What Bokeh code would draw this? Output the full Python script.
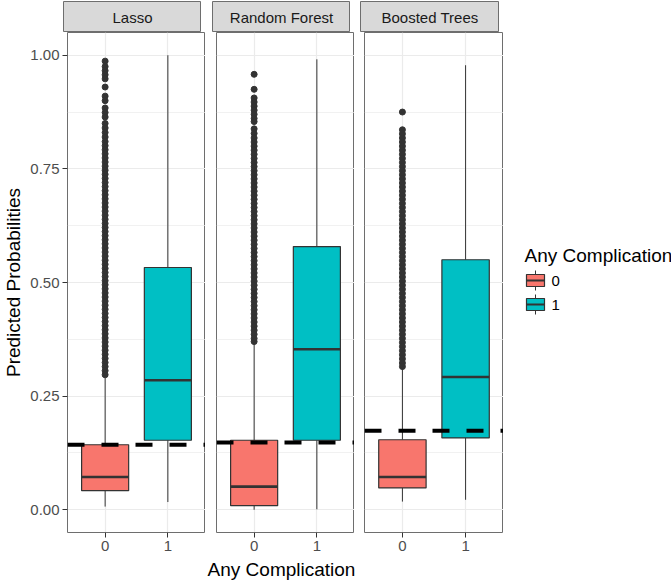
from bokeh.plotting import figure
from bokeh.models import Range1d, FixedTicker, Span
from bokeh.layouts import row, column
from bokeh.embed import file_html
from bokeh.resources import INLINE
from bokeh.core.properties import value

# ---------------- data ----------------
panels = ["Lasso", "Random Forest", "Boosted Trees"]
groups = ["0", "1"]
colors = ["#F8766D", "#00BFC4"]
x_title = "Any Complication"
y_title = "Predicted Probabilities"
legend_title = "Any Complication"

# boxplot stats per group: lower whisker, Q1, median, Q3, upper whisker
lasso_low = [0.007, 0.017]
lasso_q1 = [0.042, 0.153]
lasso_med = [0.072, 0.285]
lasso_q3 = [0.143, 0.533]
lasso_high = [0.290, 1.000]

rf_low = [0.000, 0.001]
rf_q1 = [0.009, 0.153]
rf_med = [0.051, 0.353]
rf_q3 = [0.153, 0.579]
rf_high = [0.367, 0.991]

bt_low = [0.018, 0.022]
bt_q1 = [0.048, 0.158]
bt_med = [0.072, 0.292]
bt_q3 = [0.154, 0.550]
bt_high = [0.312, 0.978]

thresholds = [0.143, 0.148, 0.174]

# outliers of group "0" (group "1" has none)
lasso_out = [0.987, 0.975, 0.966, 0.957, 0.948, 0.930, 0.910, 0.900, 0.884, 0.874,
             0.864, 0.850, 0.840, 0.830, 0.820,
             0.810, 0.801, 0.792, 0.783, 0.774, 0.765, 0.756, 0.747, 0.738, 0.729,
             0.720, 0.711, 0.702, 0.693, 0.684, 0.675, 0.666, 0.657, 0.648, 0.639,
             0.630, 0.621, 0.612, 0.603, 0.594, 0.585, 0.576, 0.567, 0.558, 0.549,
             0.540, 0.531, 0.522, 0.513, 0.504, 0.495, 0.486, 0.477, 0.468, 0.459,
             0.450, 0.441, 0.432, 0.423, 0.414, 0.405, 0.396, 0.387, 0.378, 0.369,
             0.360, 0.351, 0.342, 0.333, 0.324, 0.315, 0.306, 0.297]
rf_out = [0.958, 0.925, 0.906, 0.897, 0.888, 0.879, 0.870, 0.861, 0.854, 0.838, 0.828,
          0.818, 0.809, 0.800, 0.791, 0.782, 0.773, 0.764, 0.755, 0.746, 0.737,
          0.728, 0.719, 0.710, 0.701, 0.692, 0.683, 0.674, 0.665, 0.656, 0.647,
          0.638, 0.629, 0.620, 0.611, 0.602, 0.593, 0.584, 0.575, 0.566, 0.557,
          0.548, 0.539, 0.530, 0.521, 0.512, 0.503, 0.494, 0.485, 0.476, 0.467,
          0.458, 0.449, 0.440, 0.431, 0.422, 0.413, 0.404, 0.395, 0.386, 0.377, 0.370]
bt_out = [0.875, 0.836, 0.827, 0.818, 0.809, 0.800, 0.791, 0.782, 0.773, 0.764, 0.755,
          0.746, 0.737, 0.728, 0.719, 0.710, 0.701, 0.692, 0.683, 0.674, 0.665,
          0.656, 0.647, 0.638, 0.629, 0.620, 0.611, 0.602, 0.593, 0.584, 0.575,
          0.566, 0.557, 0.548, 0.539, 0.530, 0.521, 0.512, 0.503, 0.494, 0.485,
          0.476, 0.467, 0.458, 0.449, 0.440, 0.431, 0.422, 0.413, 0.404, 0.395,
          0.386, 0.377, 0.368, 0.359, 0.350, 0.341, 0.332, 0.323, 0.315]

y_ticks = [0.0, 0.25, 0.5, 0.75, 1.0]
y_minor = [0.125, 0.375, 0.625, 0.875]
y_labels = ["0.00", "0.25", "0.50", "0.75", "1.00"]

stats = [
    (lasso_low, lasso_q1, lasso_med, lasso_q3, lasso_high, lasso_out),
    (rf_low, rf_q1, rf_med, rf_q3, rf_high, rf_out),
    (bt_low, bt_q1, bt_med, bt_q3, bt_high, bt_out),
]

# ---------------- style / layout ----------------
FONT = "Liberation Sans"
FRAME_WS = [138, 138, 139]
LEFTS = [63, 11, 10]
FRAME_H = 500
STRIP_H = 31
BOTTOM = 26
TITLE_H = 22
TOTAL_W = 671
BOX_W = 0.75
BORDER = "#6E6E6E"
DARK = "#333333"
GRID = "#EBEBEB"

xs = list(range(len(groups)))

strips = []
plots = []
for i, name in enumerate(panels):
    lo, q1, med, q3, hi, out = stats[i]
    first = i == 0

    # strip
    s = figure(x_range=Range1d(0, 1), y_range=Range1d(0, 1),
               frame_width=FRAME_WS[i], frame_height=STRIP_H,
               min_border_left=LEFTS[i], min_border_right=0,
               min_border_top=1, min_border_bottom=0,
               background_fill_color="#D9D9D9", border_fill_color="white",
               outline_line_color=BORDER, outline_line_width=1,
               toolbar_location=None, output_backend="svg")
    s.axis.visible = False
    s.grid.visible = False
    s.text(x=[0.5], y=[0.5], text=[name], text_align="center", text_baseline="middle",
           text_font=value(FONT), text_font_size="15px", text_color="#1A1A1A")
    strips.append(s)

    # panel
    p = figure(x_range=Range1d(-0.6, len(groups) - 0.4), y_range=Range1d(-0.05, 1.05),
               frame_width=FRAME_WS[i], frame_height=FRAME_H,
               min_border_left=LEFTS[i], min_border_right=0,
               min_border_top=0, min_border_bottom=BOTTOM,
               background_fill_color="white", border_fill_color="white",
               outline_line_color=BORDER, outline_line_width=1,
               toolbar_location=None, output_backend="svg")

    p.xgrid.ticker = FixedTicker(ticks=xs)
    p.xgrid.grid_line_color = GRID
    p.xgrid.grid_line_width = 1.2
    p.ygrid.ticker = FixedTicker(ticks=y_ticks, minor_ticks=y_minor)
    p.ygrid.grid_line_color = GRID
    p.ygrid.grid_line_width = 1.2
    p.ygrid.minor_grid_line_color = GRID
    p.ygrid.minor_grid_line_width = 0.7

    p.xaxis.ticker = FixedTicker(ticks=xs)
    p.xaxis.major_label_overrides = {x: g for x, g in zip(xs, groups)}
    p.yaxis.ticker = FixedTicker(ticks=y_ticks)
    p.yaxis.major_label_overrides = {t: l for t, l in zip(y_ticks, y_labels)}
    for ax in p.axis:
        ax.axis_line_color = None
        ax.major_tick_line_color = DARK
        ax.major_tick_line_width = 1
        ax.major_tick_out = 5
        ax.major_tick_in = 0
        ax.minor_tick_line_color = None
        ax.major_label_text_font = FONT
        ax.major_label_text_font_size = "15px"
        ax.major_label_text_color = "#4D4D4D"
        ax.major_label_standoff = 3
        ax.axis_label_text_font = FONT
        ax.axis_label_text_font_size = "19px"
        ax.axis_label_text_font_style = "normal"
        ax.axis_label_text_color = "black"
    p.yaxis.axis_label_standoff = 3
    if first:
        p.yaxis.axis_label = y_title
    else:
        p.yaxis.visible = False

    # outliers
    p.scatter(x=[xs[0]] * len(out), y=out, size=6, fill_color=DARK, line_color=DARK)
    # whiskers
    p.segment(x0=xs, y0=q3, x1=xs, y1=hi, line_color=DARK, line_width=1)
    p.segment(x0=xs, y0=q1, x1=xs, y1=lo, line_color=DARK, line_width=1)
    # boxes
    p.vbar(x=xs, width=BOX_W, bottom=q1, top=q3, fill_color=colors,
           line_color=DARK, line_width=1.2)
    # medians
    p.segment(x0=[x - BOX_W / 2 for x in xs], y0=med, x1=[x + BOX_W / 2 for x in xs], y1=med,
              line_color=DARK, line_width=2.6)
    # threshold line
    p.add_layout(Span(location=thresholds[i], dimension="width", line_color="black",
                      line_width=4, line_dash="17 17"))
    plots.append(p)

panels_right = sum(LEFTS) + sum(FRAME_WS)

# ---------------- legend ----------------
LEG_W = TOTAL_W - panels_right
LEG_H = FRAME_H + BOTTOM
leg = figure(x_range=Range1d(0, LEG_W), y_range=Range1d(LEG_H, 0),
             frame_width=LEG_W, frame_height=LEG_H,
             min_border_left=0, min_border_right=0, min_border_top=0, min_border_bottom=0,
             outline_line_color=None, background_fill_color="white", border_fill_color="white",
             toolbar_location=None, output_backend="svg")
leg.axis.visible = False
leg.grid.visible = False

title_x = 21
key_x = title_x + 11
key_y = [248 + 24 * k for k in range(len(groups))]
leg.text(x=[title_x], y=[223], text=[legend_title], text_baseline="middle",
         text_font=value(FONT), text_font_size="19px", text_color="black")
leg.segment(x0=[key_x] * len(groups), y0=[y - 10 for y in key_y],
            x1=[key_x] * len(groups), y1=[y + 10 for y in key_y],
            line_color=DARK, line_width=1)
leg.rect(x=[key_x] * len(groups), y=key_y, width=18, height=12, fill_color=colors,
         line_color=DARK, line_width=1.2)
leg.segment(x0=[key_x - 9] * len(groups), y0=key_y, x1=[key_x + 9] * len(groups), y1=key_y,
            line_color=DARK, line_width=2)
leg.text(x=[key_x + 16] * len(groups), y=key_y, text=groups, text_baseline="middle",
         text_font=value(FONT), text_font_size="15px", text_color="black")

# ---------------- x axis title ----------------
tf = figure(x_range=Range1d(0, TOTAL_W), y_range=Range1d(TITLE_H, 0),
            frame_width=TOTAL_W, frame_height=TITLE_H,
            min_border_left=0, min_border_right=0, min_border_top=0, min_border_bottom=0,
            outline_line_color=None, background_fill_color="white", border_fill_color="white",
            toolbar_location=None, output_backend="svg")
tf.axis.visible = False
tf.grid.visible = False
tf.text(x=[(LEFTS[0] + panels_right) / 2], y=[11], text=[x_title], text_align="center",
        text_baseline="middle", text_font=value(FONT), text_font_size="19px",
        text_color="black")

layout = column(row(*strips), row(*plots, leg), tf)

open("out.html", "w").write(file_html(layout, INLINE))
